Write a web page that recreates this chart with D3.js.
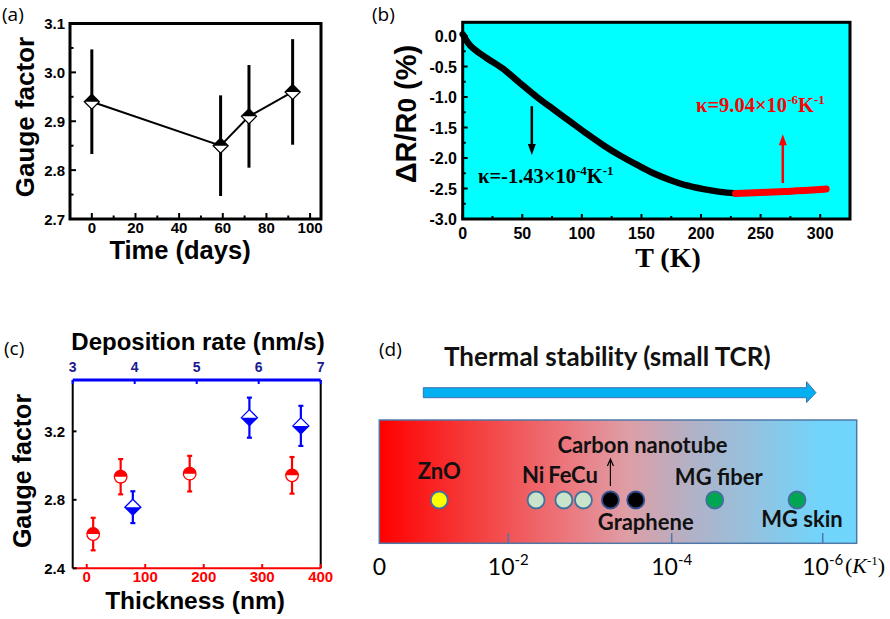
<!DOCTYPE html>
<html>
<head>
<meta charset="utf-8">
<script src="https://cdn.jsdelivr.net/npm/d3@7"></script>
<style>
  body { margin: 0; background: #fff; }
</style>
</head>
<body>
<div id="chart"></div>
<script>
// ---- data ----
// (a) gauge factor vs time
var daysA = [0, 59, 72, 92];
var gfA = [2.94, 2.85, 2.91, 2.96];
var errA = [0.107, 0.103, 0.105, 0.108];

// (b) resistance change vs temperature
var tempB = [0, 1, 3, 6, 10, 20, 34, 48, 62, 76, 90, 104, 118, 132, 146, 160, 174, 188, 202, 216, 229];
var dRB = [0.03, 0, -0.07, -0.15, -0.22, -0.36, -0.54, -0.77, -0.995, -1.2, -1.4, -1.6, -1.79, -1.96, -2.11, -2.25, -2.36, -2.45, -2.51, -2.555, -2.58];
var tempRed = [229, 250, 270, 290, 305];
var dRRed = [-2.58, -2.565, -2.548, -2.53, -2.51];

// (c) gauge factor vs thickness / deposition rate
var thickC = [11, 58, 176, 351];
var gfThick = [2.60, 2.935, 2.953, 2.943];
var errThick = [0.095, 0.103, 0.104, 0.107];
var rateC = [3.97, 5.85, 6.68];
var gfRate = [2.757, 3.28, 3.232];
var errRate = [0.093, 0.117, 0.117];

// (d) TCR scale (log10 exponent)
var materials = ["ZnO", "Ni", "Fe", "Cu", "Carbon nanotube", "Graphene", "MG fiber", "MG skin"];
var tcrExp = [-0.93, -2.34, -2.68, -2.92, -3.25, -3.56, -4.57, -5.66];
var tcrTicks = [0, -2, -4, -6];

// layout for (d) labels / colours
var matFill = ["#ffff00", "#c9e4cb", "#c9e4cb", "#c9e4cb", "#000000", "#000000", "#00a651", "#00a651"];
var labelDx = [0, -3, -4, 1, 32, 10, 4, 5];
var labelDy = [-21, -17, -17, -17, -47, 30, -15, 27];

var svg = d3.select("#chart").append("svg")
  .attr("width", 890)
  .attr("height", 619)
  .attr("font-family", "Liberation Sans, Arial, sans-serif");

// half filled markers
function diamond(g, x, y, r, fill, topFilled) {
  g.append("path")
    .attr("d", `M${x},${y - r}L${x + r},${y}L${x},${y + r}L${x - r},${y}Z`)
    .attr("fill", "#fff").attr("stroke", fill).attr("stroke-width", 1.3);
  var half = topFilled
    ? `M${x - r},${y}L${x},${y - r}L${x + r},${y}Z`
    : `M${x - r},${y}L${x},${y + r}L${x + r},${y}Z`;
  g.append("path").attr("d", half).attr("fill", fill);
}

function bold(sel) { return sel.attr("font-weight", "bold"); }

// ================= (a) =================
var xA = d3.scaleLinear().domain([-10, 105]).range([70, 321]);
var yA = d3.scaleLinear().domain([2.7, 3.1]).range([219, 23.5]);
var gA = svg.append("g");

gA.append("text").attr("x", 2).attr("y", 21).attr("font-size", 19)
  .attr("font-family", "Open Sans").text("(a)");

// ticks inward
d3.range(-10, 106, 10).forEach(function(v) {
  var major = v % 20 === 0;
  gA.append("line").attr("x1", xA(v)).attr("x2", xA(v))
    .attr("y1", 219).attr("y2", 219 - (major ? 6 : 3.5))
    .attr("stroke", "#000").attr("stroke-width", 2);
});
d3.range(2.7, 3.101, 0.05).forEach(function(v, i) {
  gA.append("line").attr("x1", 70).attr("x2", 70 + (i % 2 === 0 ? 6 : 3.5))
    .attr("y1", yA(v)).attr("y2", yA(v))
    .attr("stroke", "#000").attr("stroke-width", 2);
});
d3.range(0, 101, 20).forEach(function(v) {
  bold(gA.append("text")).attr("x", xA(v)).attr("y", 233)
    .attr("text-anchor", "middle").attr("font-size", 15).text(v);
});
[2.7, 2.8, 2.9, 3.0, 3.1].forEach(function(v) {
  bold(gA.append("text")).attr("x", 65).attr("y", yA(v) + 5.5)
    .attr("text-anchor", "end").attr("font-size", 15).text(v.toFixed(1));
});
gA.append("rect").attr("x", 70).attr("y", 23.5).attr("width", 251).attr("height", 195.5)
  .attr("fill", "none").attr("stroke", "#000").attr("stroke-width", 3);

gA.append("path")
  .datum(daysA.map(function(d, i) { return [d, gfA[i]]; }))
  .attr("d", d3.line().x(function(d) { return xA(d[0]); }).y(function(d) { return yA(d[1]); }))
  .attr("fill", "none").attr("stroke", "#000").attr("stroke-width", 2);
daysA.forEach(function(d, i) {
  gA.append("line").attr("x1", xA(d)).attr("x2", xA(d))
    .attr("y1", yA(gfA[i] - errA[i])).attr("y2", yA(gfA[i] + errA[i]))
    .attr("stroke", "#000").attr("stroke-width", 3);
  diamond(gA, xA(d), yA(gfA[i]), 7.5, "#000", true);
});

bold(gA.append("text")).attr("x", 180).attr("y", 259).attr("text-anchor", "middle")
  .attr("font-size", 25.5).text("Time (days)");
bold(gA.append("text")).attr("transform", "translate(34,117) rotate(-90)")
  .attr("text-anchor", "middle").attr("font-size", 26).text("Gauge factor");

// ================= (b) =================
var xB = d3.scaleLinear().domain([0, 325]).range([462.7, 850]);
var yB = d3.scaleLinear().domain([-3.0, 0.225]).range([219, 22.3]);
var gB = svg.append("g");

gB.append("text").attr("x", 372).attr("y", 21).attr("font-size", 19)
  .attr("font-family", "Open Sans").text("(b)");
gB.append("rect").attr("x", 462.7).attr("y", 22.3).attr("width", 387.3).attr("height", 196.7)
  .attr("fill", "#00ffff");

d3.range(0, 326, 25).forEach(function(v) {
  gB.append("line").attr("x1", xB(v)).attr("x2", xB(v))
    .attr("y1", 219).attr("y2", 219 - (v % 50 === 0 ? 5 : 3))
    .attr("stroke", "#000").attr("stroke-width", 2);
});
d3.range(-3.0, 0.01, 0.25).forEach(function(v, i) {
  gB.append("line").attr("x1", 462.7).attr("x2", 462.7 + (i % 2 === 0 ? 5 : 3))
    .attr("y1", yB(v)).attr("y2", yB(v))
    .attr("stroke", "#000").attr("stroke-width", 2);
});
d3.range(0, 301, 50).forEach(function(v) {
  bold(gB.append("text")).attr("x", xB(v)).attr("y", 239)
    .attr("text-anchor", "middle").attr("font-size", 16).text(v);
});
d3.range(-3.0, 0.01, 0.5).forEach(function(v) {
  bold(gB.append("text")).attr("x", 457).attr("y", yB(v) + 6)
    .attr("text-anchor", "end").attr("font-size", 16).text(Math.abs(v) < 1e-9 ? "0.0" : v.toFixed(1));
});

var lineB = d3.line().curve(d3.curveMonotoneX)
  .x(function(d) { return xB(d[0]); }).y(function(d) { return yB(d[1]); });
gB.append("path")
  .datum(tempB.map(function(t, i) { return [t, dRB[i]]; }))
  .attr("d", lineB).attr("fill", "none").attr("stroke", "#000")
  .attr("stroke-width", 6.5).attr("stroke-linecap", "round");
gB.append("path")
  .datum(tempRed.map(function(t, i) { return [t, dRRed[i]]; }))
  .attr("d", lineB).attr("fill", "none").attr("stroke", "#ff0000")
  .attr("stroke-width", 7).attr("stroke-linecap", "round");

gB.append("rect").attr("x", 462.7).attr("y", 22.3).attr("width", 387.3).attr("height", 196.7)
  .attr("fill", "none").attr("stroke", "#000").attr("stroke-width", 3);

// arrows (pixel direction)
function arrowB(x, y1, y2, color) {
  var tx = xB(x), py1 = yB(y1), ty = yB(y2);
  var dir = ty > py1 ? 1 : -1;
  gB.append("line").attr("x1", tx).attr("x2", tx)
    .attr("y1", py1).attr("y2", ty - dir * 8)
    .attr("stroke", color).attr("stroke-width", 2.5);
  gB.append("path").attr("d", `M${tx - 4},${ty - dir * 11}L${tx},${ty}L${tx + 4},${ty - dir * 11}Z`)
    .attr("fill", color);
}
arrowB(58, -1.15, -1.95, "#000");
arrowB(268.6, -2.41, -1.61, "#ff0000");

function kappa(x, y, color, mant, expo) {
  var t = gB.append("text").attr("x", x).attr("y", y).attr("fill", color)
    .attr("font-family", "Liberation Serif, Times New Roman, serif")
    .attr("font-weight", "bold").attr("font-size", 20.5);
  t.append("tspan").text("κ=" + mant + "×10");
  t.append("tspan").attr("dy", -8).attr("font-size", 13).text(expo);
  t.append("tspan").attr("dy", 8).text("K");
  t.append("tspan").attr("dy", -8).attr("font-size", 13).text("-1");
}
kappa(478, 183, "#000", "-1.43", "-4");
kappa(696, 112, "#ff0000", "9.04", "-6");

gB.append("text").attr("x", 668).attr("y", 267).attr("text-anchor", "middle")
  .attr("font-family", "Liberation Serif, Times New Roman, serif")
  .attr("font-weight", "bold").attr("font-size", 28)
  .text("T (K)");
var yt = bold(gB.append("text")).attr("transform", "translate(416,114) rotate(-90)")
  .attr("text-anchor", "middle").attr("font-size", 29);
yt.append("tspan").text("ΔR/R");
yt.append("tspan").attr("font-size", 26).text("0");
yt.append("tspan").text(" (%)");

// ================= (c) =================
var xC = d3.scaleLinear().domain([-24, 400]).range([72.7, 320.7]);
var xCtop = d3.scaleLinear().domain([3, 7]).range([72.7, 320.7]);
var yC = d3.scaleLinear().domain([2.4, 3.5]).range([568.3, 380]);
var gC = svg.append("g");

gC.append("text").attr("x", 4).attr("y", 355).attr("font-size", 19)
  .attr("font-family", "Open Sans").text("(c)");

// frame sides
gC.append("line").attr("x1", 72.7).attr("x2", 72.7).attr("y1", 380).attr("y2", 568.3)
  .attr("stroke", "#000").attr("stroke-width", 2);
gC.append("line").attr("x1", 320.7).attr("x2", 320.7).attr("y1", 380).attr("y2", 568.3)
  .attr("stroke", "#000").attr("stroke-width", 2);
gC.append("line").attr("x1", 72.7).attr("x2", 320.7).attr("y1", 568.3).attr("y2", 568.3)
  .attr("stroke", "#ff0000").attr("stroke-width", 2);
gC.append("line").attr("x1", 72.7).attr("x2", 320.7).attr("y1", 380).attr("y2", 380)
  .attr("stroke", "#0000ff").attr("stroke-width", 3);

[0, 100, 200, 300, 400].forEach(function(v) {
  gC.append("line").attr("x1", xC(v)).attr("x2", xC(v)).attr("y1", 568.3).attr("y2", 564)
    .attr("stroke", "#ff0000").attr("stroke-width", 2);
  bold(gC.append("text")).attr("x", xC(v)).attr("y", 582).attr("text-anchor", "middle")
    .attr("font-size", 15).attr("fill", "#ff0000").text(v);
});
[3, 4, 5, 6, 7].forEach(function(v) {
  gC.append("line").attr("x1", xCtop(v)).attr("x2", xCtop(v)).attr("y1", 380).attr("y2", 384)
    .attr("stroke", "#0000ff").attr("stroke-width", 2);
  bold(gC.append("text")).attr("x", xCtop(v)).attr("y", 372).attr("text-anchor", "middle")
    .attr("font-size", 14).attr("fill", "#1a1a8e").text(v);
});
[2.4, 2.8, 3.2].forEach(function(v) {
  gC.append("line").attr("x1", 72.7).attr("x2", 76.5).attr("y1", yC(v)).attr("y2", yC(v))
    .attr("stroke", "#000").attr("stroke-width", 2);
  bold(gC.append("text")).attr("x", 65).attr("y", yC(v) + 5.5).attr("text-anchor", "end")
    .attr("font-size", 15).text(v.toFixed(1));
});

function errBar(g, x, v, e, y, color) {
  g.append("line").attr("x1", x).attr("x2", x).attr("y1", y(v - e)).attr("y2", y(v + e))
    .attr("stroke", color).attr("stroke-width", 2.2);
  [v - e, v + e].forEach(function(w) {
    g.append("line").attr("x1", x - 2.5).attr("x2", x + 2.5).attr("y1", y(w)).attr("y2", y(w))
      .attr("stroke", color).attr("stroke-width", 2.2);
  });
}
thickC.forEach(function(t, i) {
  var cx = xC(t), cy = yC(gfThick[i]), r = 6.3;
  errBar(gC, cx, gfThick[i], errThick[i], yC, "#ff0000");
  gC.append("circle").attr("cx", cx).attr("cy", cy).attr("r", r)
    .attr("fill", "#fff").attr("stroke", "#ff0000").attr("stroke-width", 1.3);
  gC.append("path").attr("d", `M${cx - r},${cy}A${r},${r} 0 0 1 ${cx + r},${cy}Z`)
    .attr("fill", "#ff0000");
});
rateC.forEach(function(t, i) {
  errBar(gC, xCtop(t), gfRate[i], errRate[i], yC, "#0000ff");
  diamond(gC, xCtop(t), yC(gfRate[i]), 8, "#0000ff", false);
});

bold(gC.append("text")).attr("x", 198).attr("y", 350).attr("text-anchor", "middle")
  .attr("font-size", 24).text("Deposition rate (nm/s)");
bold(gC.append("text")).attr("x", 195).attr("y", 608.5).attr("text-anchor", "middle")
  .attr("font-size", 24.5).text("Thickness (nm)");
bold(gC.append("text")).attr("transform", "translate(31,471) rotate(-90)")
  .attr("text-anchor", "middle").attr("font-size", 25).text("Gauge factor");

// ================= (d) =================
var xD = d3.scaleLinear().domain(tcrTicks).range([379.3, 508.3, 671.7, 822.7]);
var gD = svg.append("g");
var cyD = 500;

gD.append("text").attr("x", 379).attr("y", 356).attr("font-size", 19)
  .attr("font-family", "Open Sans").text("(d)");
gD.append("text").attr("x", 444).attr("y", 366).attr("font-family", "Lato")
  .attr("font-weight", "bold").attr("font-size", 26).attr("fill", "#111")
  .text("Thermal stability (small TCR)");

// big arrow
gD.append("path")
  .attr("d", "M423.3,387.7L806.5,387.7L806.5,381.7L816,392.7L806.5,402.5L806.5,397.7L423.3,397.7Z")
  .attr("fill", "#00b0f0").attr("stroke", "#3f72af").attr("stroke-width", 1);

var grad = svg.append("defs").append("linearGradient").attr("id", "tcrGrad");
[["0%", "#ff0000"], ["22%", "#f44444"], ["42%", "#ea7f86"], ["52%", "#de9ea6"],
 ["66%", "#b0b2c8"], ["80%", "#90c4e2"], ["92%", "#72d4fa"], ["100%", "#6fd6fd"]]
  .forEach(function(s) {
    grad.append("stop").attr("offset", s[0]).attr("stop-color", s[1]);
  });
gD.append("rect").attr("x", 379.3).attr("y", 420).attr("width", 477.4).attr("height", 123.3)
  .attr("fill", "url(#tcrGrad)").attr("stroke", "#4f78a8").attr("stroke-width", 1.5);

tcrTicks.slice(1).forEach(function(v) {
  gD.append("line").attr("x1", xD(v)).attr("x2", xD(v)).attr("y1", 543).attr("y2", 533)
    .attr("stroke", "#4f78a8").attr("stroke-width", 1.5);
});
tcrTicks.forEach(function(v) {
  var t = gD.append("text").attr("x", xD(v)).attr("y", 575).attr("font-family", "Lato")
    .attr("font-size", 23).attr("text-anchor", "middle");
  if (v === 0) { t.text("0"); return; }
  t.append("tspan").text("10");
  t.append("tspan").attr("dy", -10).attr("font-size", 15).text(v);
});
var unit = gD.append("text").attr("x", 845).attr("y", 573)
  .attr("font-family", "Liberation Serif, Times New Roman, serif").attr("font-size", 22);
unit.append("tspan").text("(");
unit.append("tspan").attr("font-style", "italic").text("K");
unit.append("tspan").attr("dy", -8).attr("font-size", 13).text("-1");
unit.append("tspan").attr("dy", 8).text(")");

// carbon nanotube pointer
var cntX = xD(tcrExp[4]);
gD.append("line").attr("x1", cntX).attr("x2", cntX).attr("y1", 486).attr("y2", 461)
  .attr("stroke", "#000").attr("stroke-width", 1.2);
gD.append("path").attr("d", `M${cntX - 3},${466}L${cntX},${459}L${cntX + 3},${466}`)
  .attr("fill", "none").attr("stroke", "#000").attr("stroke-width", 1.2);

materials.forEach(function(m, i) {
  var x = xD(tcrExp[i]);
  gD.append("circle").attr("cx", x).attr("cy", cyD).attr("r", 8.5)
    .attr("fill", matFill[i]).attr("stroke", i === 4 || i === 5 ? "#2f4f8f" : "#41719c")
    .attr("stroke-width", 1.8);
  gD.append("text").attr("x", x + labelDx[i]).attr("y", cyD + labelDy[i])
    .attr("text-anchor", "middle").attr("font-family", "Lato").attr("font-weight", "bold")
    .attr("font-size", 22).attr("fill", "#111").text(m);
});
</script>
</body>
</html>
